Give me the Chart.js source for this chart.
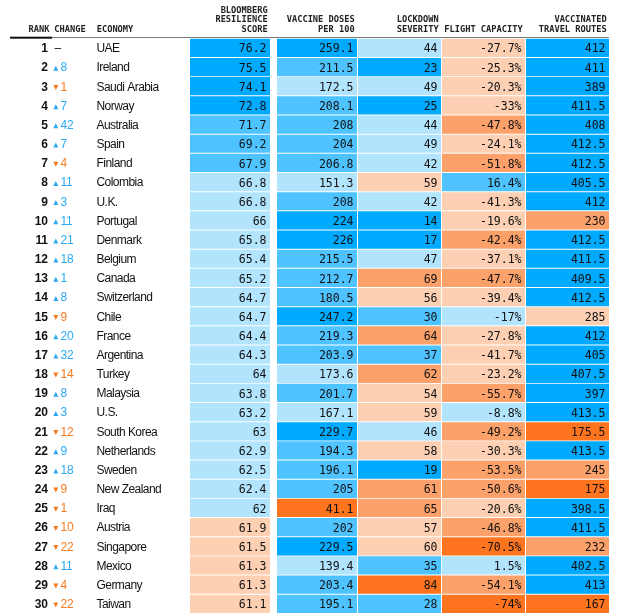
<!DOCTYPE html>
<html>
<head>
<meta charset="utf-8">
<script src="https://cdn.jsdelivr.net/npm/chart.js@4.4.1/dist/chart.umd.min.js"></script>
<style>
  html, body { margin: 0; padding: 0; background: #fff; }
</style>
</head>
<body>
<canvas id="resilience" width="629" height="615"></canvas>
<script>
var economies = ['UAE', 'Ireland', 'Saudi Arabia', 'Norway', 'Australia', 'Spain', 'Finland', 'Colombia', 'U.K.', 'Portugal',
    'Denmark', 'Belgium', 'Canada', 'Switzerland', 'Chile', 'France', 'Argentina', 'Turkey', 'Malaysia', 'U.S.',
    'South Korea', 'Netherlands', 'Sweden', 'New Zealand', 'Iraq', 'Austria', 'Singapore', 'Mexico', 'Germany', 'Taiwan'];
var changes = [null, 8, -1, 7, 42, 7, -4, 11, 3, 11, 21, 18, 1, 8, -9, 20, 32, -14, 8, 3, -12, 9, 18, -9, -1, -10, -22, 11, -4, -22];
var score = [76.2, 75.5, 74.1, 72.8, 71.7, 69.2, 67.9, 66.8, 66.8, 66, 65.8, 65.4, 65.2, 64.7, 64.7,
    64.4, 64.3, 64, 63.8, 63.2, 63, 62.9, 62.5, 62.4, 62, 61.9, 61.5, 61.3, 61.3, 61.1];
var vaccine = [259.1, 211.5, 172.5, 208.1, 208, 204, 206.8, 151.3, 208, 224, 226, 215.5, 212.7, 180.5, 247.2,
    219.3, 203.9, 173.6, 201.7, 167.1, 229.7, 194.3, 196.1, 205, 41.1, 202, 229.5, 139.4, 203.4, 195.1];
var lockdown = [44, 23, 49, 25, 44, 49, 42, 59, 42, 14, 17, 47, 69, 56, 30, 64, 37, 62, 54, 59, 46, 58, 19, 61, 65, 57, 60, 35, 84, 28];
var flight = [-27.7, -25.3, -20.3, -33, -47.8, -24.1, -51.8, 16.4, -41.3, -19.6, -42.4, -37.1, -47.7, -39.4, -17,
    -27.8, -41.7, -23.2, -55.7, -8.8, -49.2, -30.3, -53.5, -50.6, -20.6, -46.8, -70.5, 1.5, -54.1, -74];
var travel = [412, 411, 389, 411.5, 408, 412.5, 412.5, 405.5, 412, 230, 412.5, 411.5, 409.5, 412.5, 285,
    412, 405, 407.5, 397, 413.5, 175.5, 413.5, 245, 175, 398.5, 411.5, 232, 402.5, 413, 167];

var colors = {
    blue3: '#00aaff',
    blue2: '#4fc3ff',
    blue1: '#b3e4fd',
    orange1: '#fdd0b4',
    orange2: '#fca16a',
    orange3: '#ff741e',
    up: '#2aa9f2',
    down: '#f47a22',
    text: '#111111',
    head: '#222222'
};

// first step whose threshold the value reaches wins
function bucket(steps, lowerIsBetter) {
    return function (v) {
        for (var i = 0; i < steps.length; i++) {
            if (lowerIsBetter ? v <= steps[i][0] : v >= steps[i][0]) return steps[i][1];
        }
        return steps[steps.length - 1][1];
    };
}

function plain(v) { return String(v); }

var columns = [
    { values: score, from: 190, to: 270, head: ['BLOOMBERG', 'RESILIENCE', 'SCORE'], fmt: plain,
      color: bucket([[72, colors.blue3], [67, colors.blue2], [62, colors.blue1], [-Infinity, colors.orange1]]) },
    { values: vaccine, from: 277, to: 357, head: ['VACCINE DOSES', 'PER 100'], fmt: plain,
      color: bucket([[220, colors.blue3], [180, colors.blue2], [100, colors.blue1], [-Infinity, colors.orange3]]) },
    { values: lockdown, from: 358, to: 441, head: ['LOCKDOWN', 'SEVERITY'], fmt: plain,
      color: bucket([[25, colors.blue3], [37, colors.blue2], [49, colors.blue1], [60, colors.orange1], [80, colors.orange2], [Infinity, colors.orange3]], true) },
    { values: flight, from: 442, to: 525, head: ['FLIGHT CAPACITY'], fmt: function (v) { return v + '%'; },
      color: bucket([[10, colors.blue2], [-18, colors.blue1], [-42, colors.orange1], [-60, colors.orange2], [-Infinity, colors.orange3]]) },
    { values: travel, from: 526, to: 609, head: ['VACCINATED', 'TRAVEL ROUTES'], fmt: plain,
      color: bucket([[300, colors.blue3], [250, colors.orange1], [200, colors.orange2], [-Infinity, colors.orange3]]) }
];

var datasets = columns.map(function (col) {
    return {
        label: col.head.join(' '),
        data: col.values.map(function () { return [col.from, col.to]; }),
        backgroundColor: col.values.map(col.color),
        grouped: false,
        barPercentage: 0.95,
        categoryPercentage: 1,
        borderWidth: 0
    };
});

var tableText = {
    id: 'tableText',
    afterDatasetsDraw: function (chart) {
        var ctx = chart.ctx;
        var yScale = chart.scales.y;
        ctx.save();

        // header
        ctx.fillStyle = colors.head;
        ctx.font = 'bold 8.7px "DejaVu Sans Mono", "Liberation Mono", monospace';
        ctx.textAlign = 'right';
        ctx.fillText('RANK', 49.5, 32);
        ctx.textAlign = 'left';
        ctx.fillText('CHANGE', 54.3, 32);
        ctx.fillText('ECONOMY', 96.7, 32);
        ctx.textAlign = 'right';
        columns.forEach(function (col) {
            var n = col.head.length;
            col.head.forEach(function (line, k) {
                ctx.fillText(line, col.to - 2.3, 32 - (n - 1 - k) * 9.7);
            });
        });

        ctx.fillStyle = '#7a7a7a';
        ctx.fillRect(52, 37, 557, 1);
        ctx.fillStyle = '#111';
        ctx.fillRect(10, 36.7, 42, 2);

        // cell values
        ctx.fillStyle = colors.text;
        ctx.font = '11.5px "DejaVu Sans Mono", "Liberation Mono", monospace';
        ctx.textAlign = 'right';
        columns.forEach(function (col, c) {
            var meta = chart.getDatasetMeta(c);
            meta.data.forEach(function (bar, i) {
                var right = Math.max(bar.x, bar.base);
                ctx.fillText(col.fmt(col.values[i]), right - 3.5, bar.y + 4.6);
            });
        });

        // rank, change, economy
        economies.forEach(function (name, i) {
            var py = yScale.getPixelForValue(i);
            var base = py + 4.3;

            ctx.letterSpacing = '-0.3px';
            ctx.textAlign = 'right';
            ctx.fillStyle = colors.text;
            ctx.font = 'bold 12px "Liberation Sans", Arial, sans-serif';
            ctx.fillText(String(i + 1), 47.5, base);

            ctx.textAlign = 'left';
            ctx.font = '12px "Liberation Sans", Arial, sans-serif';
            var ch = changes[i];
            if (ch === null) {
                ctx.fillText('\u2013', 54.5, base);
            } else {
                ctx.fillStyle = ch > 0 ? colors.up : colors.down;
                ctx.beginPath();
                if (ch > 0) {
                    ctx.moveTo(53.3, base - 0.5);
                    ctx.lineTo(58.3, base - 0.5);
                    ctx.lineTo(55.8, base - 5.5);
                } else {
                    ctx.moveTo(53.3, base - 5.5);
                    ctx.lineTo(58.3, base - 5.5);
                    ctx.lineTo(55.8, base - 0.5);
                }
                ctx.closePath();
                ctx.fill();
                ctx.fillText(String(Math.abs(ch)), 60.6, base);
            }

            ctx.letterSpacing = '-0.55px';
            ctx.fillStyle = colors.text;
            ctx.fillText(name, 96.5, base);
            ctx.letterSpacing = '0px';
        });

        ctx.restore();
    }
};

new Chart(document.getElementById('resilience'), {
    type: 'bar',
    data: {
        labels: economies,
        datasets: datasets
    },
    options: {
        responsive: false,
        animation: false,
        indexAxis: 'y',
        layout: { padding: { top: 38.3, bottom: 1.6, left: 0, right: 0 } },
        scales: {
            x: { type: 'linear', min: 0, max: 629, display: false },
            y: { type: 'category', display: false, offset: true }
        },
        plugins: {
            legend: { display: false },
            tooltip: { enabled: false }
        }
    },
    plugins: [tableText]
});
</script>
</body>
</html>
